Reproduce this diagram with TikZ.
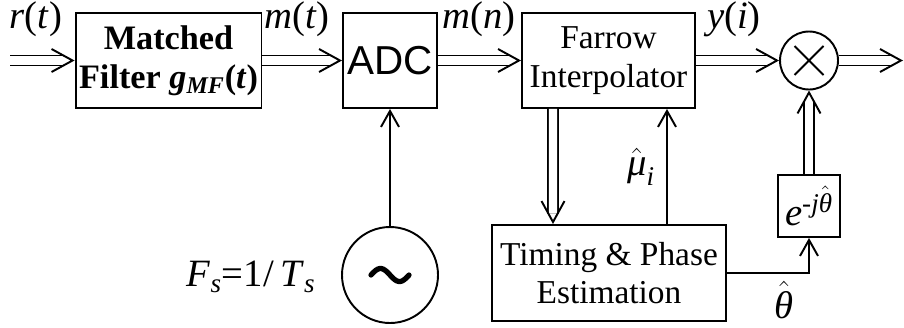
\documentclass[tikz,border=0pt]{standalone}
\usepackage{amsmath}
\usepackage{fontspec}
\setmainfont{Liberation Serif}
\newfontfamily\adcfont{Liberation Sans}
\usetikzlibrary{arrows.meta,positioning,decorations.markings}

\tikzset{
  blk/.style={draw,line width=1.1pt,align=center,inner sep=2pt},
  sig/.style={line width=1.1pt,-{Straight Barb[length=0.32cm,width=0.36cm,line width=1.1pt]}},
  dsig/.style={line width=1.1pt,double,double distance=4.6pt,shorten >=0.21cm,
    postaction={decorate,decoration={markings,mark=at position 1 with {\arrow[line width=1.1pt]{Straight Barb[length=0.42cm,width=0.46cm]}}}}},
  lbl/.style={font=\fontsize{22}{24}\selectfont,inner sep=0pt}
}

\begin{document}
\begin{tikzpicture}[font=\fontsize{19}{22}\selectfont]
              \useasboundingbox (0,0) rectangle (18.08,6.54);
              \node[blk,minimum width=3.58cm,minimum height=1.9cm,font=\fontsize{19.5}{22}\selectfont\bfseries](mf)at(3.37,5.33){Matched\\Filter \textit{g}\textsubscript{\textit{MF}}(\textit{t})};
              \node[blk,minimum width=1.88cm,minimum height=1.9cm,font=\fontsize{23}{24}\adcfont](adc)at(7.8,5.33){ADC};
              \node[blk,minimum width=3.46cm,minimum height=1.9cm](fi)at(12.17,5.33){Farrow\\Interpolator};
              \node[circle,draw,line width=1.1pt,minimum size=1.16cm](mul)at(16.18,5.33){};
              \draw[line width=1.1pt](mul.center)+(-0.29,-0.29)--+(0.29,0.29) (mul.center)+(-0.29,0.29)--+(0.29,-0.29);
              \node[blk,minimum width=4.68cm,minimum height=1.92cm](tp)at(12.18,1.08){Timing \& Phase\\Estimation};
              \node[blk,minimum size=1.24cm,inner sep=0pt,font=\fontsize{22}{24}\selectfont](ex)at(16.18,2.42){\textit{e}$^{\text{-\itshape j}\hat{\text{\itshape θ}}}$};
              \node[circle,draw,line width=1.1pt,minimum size=1.92cm](osc)at(7.8,1.04){};
              \draw[line width=3pt,line cap=round,shift={(osc.center)}]plot[domain=-0.38:0.38,samples=40,smooth](\x,{-0.13*sin(\x/0.38*180)});
              \coordinate(in)at(0.2,5.33);
              \coordinate(out)at(18.06,5.33);
              \draw[dsig](in)--(mf);
              \draw[dsig](mf)--(adc);
              \draw[dsig](adc)--(fi);
              \draw[dsig](fi)--(mul);
              \draw[dsig](mul)--(out);
              \draw[sig](osc)--(adc);
              \draw[dsig]([xshift=-1.11cm]fi.south)--([xshift=-1.12cm]tp.north);
              \draw[sig]([xshift=1.16cm]tp.north)--([xshift=1.17cm]fi.south);
              \draw[dsig](ex)--(mul);
              \draw[sig](tp.east)-|(ex);
              \node[lbl](rt)at(0.72,6.15){\textit{r}(\textit{t})};
              \node[lbl](mt)at(5.94,6.15){\textit{m}(\textit{t})};
              \node[lbl](mn)at(9.58,6.15){\textit{m}(\textit{n})};
              \node[lbl](yi)at(14.68,6.15){\textit{y}(\textit{i})};
              \node[lbl](mu)at(12.82,3.2){$\hat{\text{\itshape μ}}_{\text{\itshape i}}$};
              \node[lbl](th)at(15.68,0.54){$\hat{\text{\itshape θ}}$};
              \node[lbl](fs)at(5.02,1.0){\textit{F}$_{\text{\itshape s}}$=1/\,\textit{T}$_{\text{\itshape s}}$};
            \end{tikzpicture}
\end{document}
